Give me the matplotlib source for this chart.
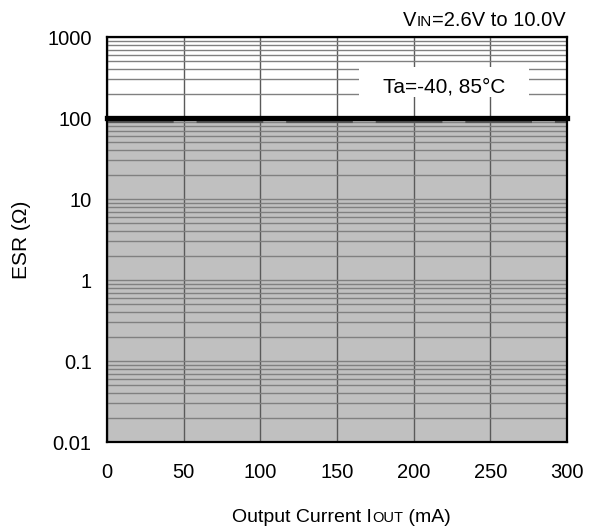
import matplotlib
matplotlib.use('Agg')
import matplotlib.pyplot as plt
from matplotlib.patches import Rectangle
import numpy as np

plt.rcParams['font.family'] = ['Liberation Sans', 'DejaVu Sans']

# DATA
iout = [0, 300]                  # mA, stable region spans the full current range
esr_low = [0.01, 0.01]           # ohm
esr_high = [100, 100]            # ohm
xticks = [0, 50, 100, 150, 200, 250, 300]
yticks = [0.01, 0.1, 1, 10, 100, 1000]
ytick_labels = ['0.01', '0.1', '1', '10', '100', '1000']
cond_label = 'Ta=-40, 85\u00b0C'

fig = plt.figure(figsize=(5.89, 5.30), dpi=100)
ax = fig.add_axes([0.1817, 0.166, 0.781, 0.764])

ax.set_yscale('log')
ax.set_xlim(0, 300)
ax.set_ylim(0.01, 1000)

# stable region
ax.fill_between(iout, esr_low, esr_high, color='#c0c0c0', zorder=1, linewidth=0)

# grid
ax.set_xticks(xticks)
ax.set_yticks(yticks)
ax.set_yticklabels(ytick_labels)
ax.yaxis.set_minor_locator(matplotlib.ticker.LogLocator(base=10, subs=np.arange(2, 10)))
ax.yaxis.set_minor_formatter(matplotlib.ticker.NullFormatter())
ax.grid(True, which='major', axis='x', color='#5a5a5a', linewidth=1.0)
ax.grid(True, which='both', axis='y', color='#808080', linewidth=1.0)
for gl in ax.get_xgridlines() + ax.get_ygridlines():
    gl.set_zorder(2)

# darker dashed line just under the upper boundary
ax.plot(iout, [90, 90], color='#555555', linewidth=1.5, dashes=(32, 11), zorder=3)

# upper boundary
ax.plot(iout, esr_high, color='black', linewidth=3.8, zorder=4, clip_on=False,
        solid_capstyle='projecting')

ax.tick_params(axis='both', which='both', length=0, labelsize=14.5)
ax.tick_params(axis='x', pad=15)
ax.tick_params(axis='y', pad=11)

for s in ['top', 'bottom', 'left', 'right']:
    ax.spines[s].set_linewidth(1.6)
    ax.spines[s].set_zorder(5)

# condition box
ax.add_patch(Rectangle((0.548, 0.853), 0.37, 0.074, transform=ax.transAxes,
                       facecolor='white', edgecolor='none', zorder=4.5))
ax.text(0.733, 0.878, cond_label, transform=ax.transAxes, ha='center', va='center',
        fontsize=15, zorder=6)

ax.set_ylabel('ESR (\u03a9)', fontsize=15, labelpad=12)

renderer = fig.canvas.get_renderer()


def chain(parts, x, y):
    """draw text pieces left to right on one baseline (figure pixels)"""
    for s, fs in parts:
        t = fig.text(x / 589, y / 530, s, fontsize=fs, va='baseline', ha='left')
        x = t.get_window_extent(renderer).x1


# VIN note (top right)
chain([('V', 14.5), ('IN', 11), ('=2.6V to 10.0V', 14.5)], 403, 530 - 26)

# x label with small caps part
chain([('Output Current I', 14), ('OUT', 10.5), (' (mA)', 14)], 232, 530 - 522)

fig.savefig('out.png', dpi=100)
